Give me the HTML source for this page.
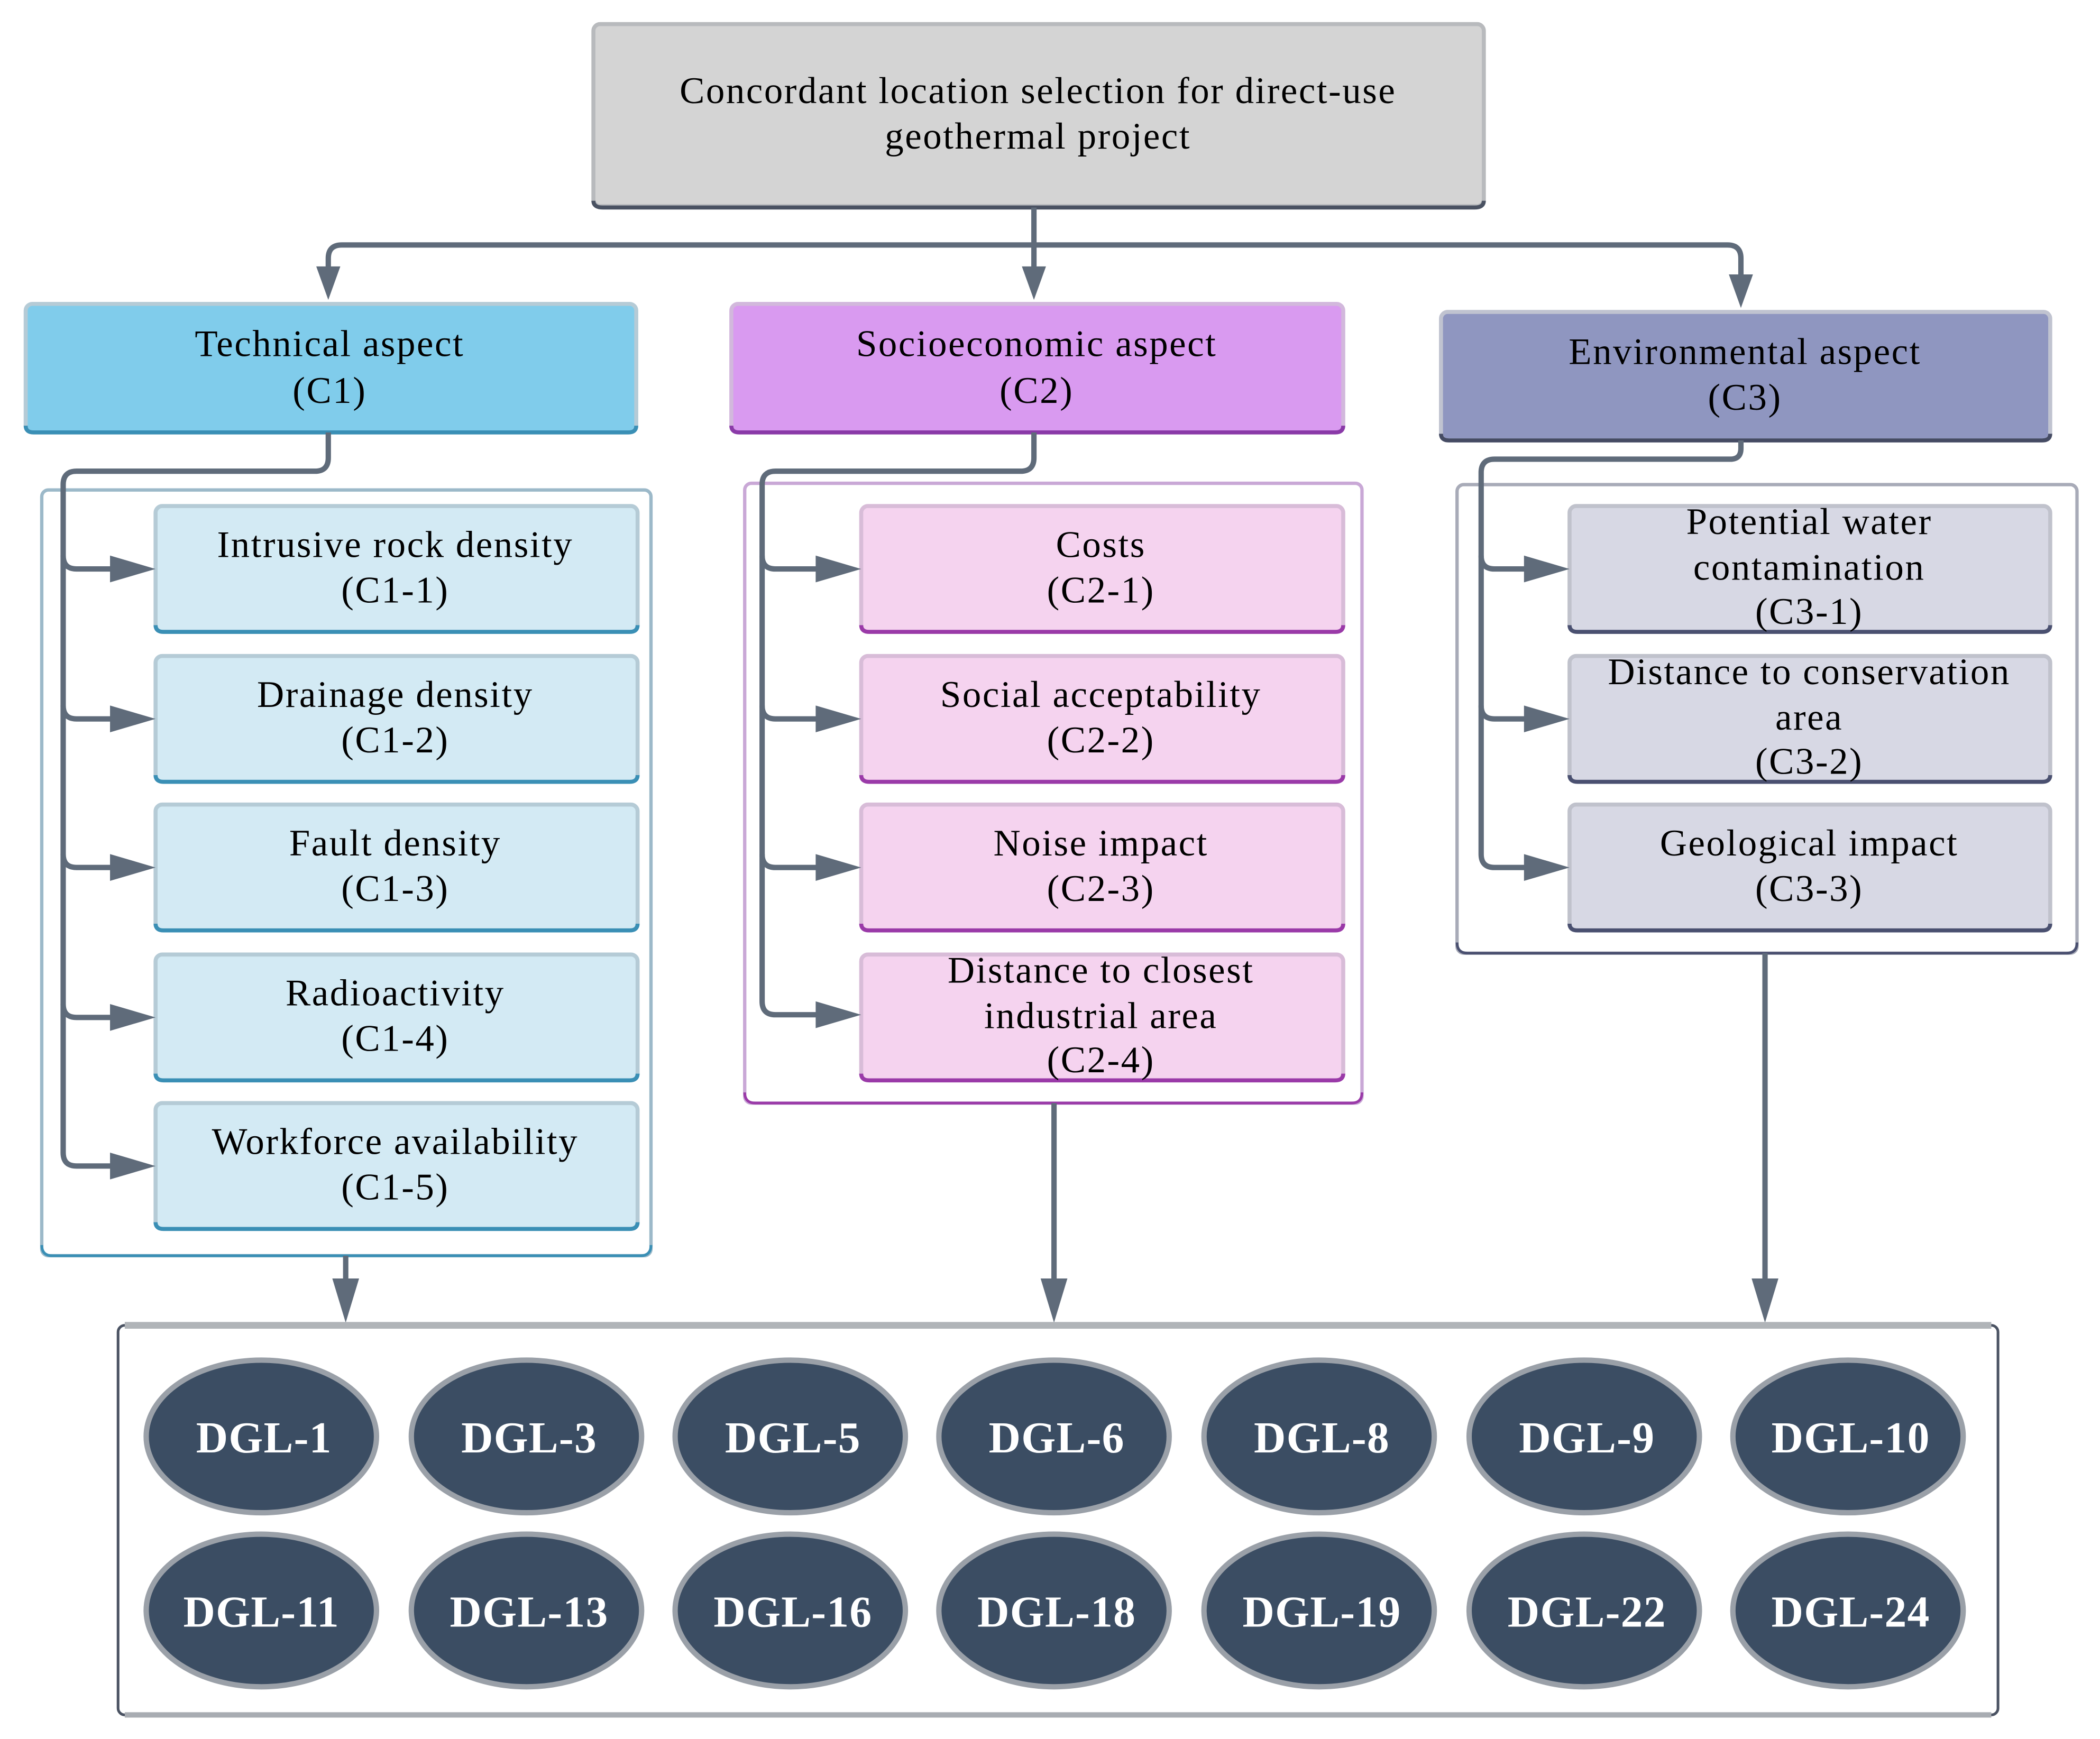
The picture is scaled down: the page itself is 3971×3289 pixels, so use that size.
<!DOCTYPE html>
<html><head><meta charset="utf-8"><style>
html,body{margin:0;padding:0;background:#fff;}
svg{display:block;}
text{font-family:"Liberation Serif",serif;}
</style></head><body>
<svg width="3971" height="3289" viewBox="0 0 1568 1299" xmlns="http://www.w3.org/2000/svg">
<rect width="1568" height="1299" fill="#fff"/>
<!-- top box -->
<rect x="443" y="18" width="665" height="136" rx="5" fill="#d4d4d4" stroke="#b8babd" stroke-width="3"/>
<path d="M443,150 Q443,155 450,155 L1101,155 Q1108,155 1108,150" fill="none" stroke="#4a5262" stroke-width="3"/>
<g font-size="28" letter-spacing="1" text-anchor="middle" fill="#000">
<text x="775" y="77">Concordant location selection for direct-use</text>
<text x="775" y="111">geothermal project</text>
</g>
<!-- top connectors -->
<g fill="none" stroke="#5f6b7a" stroke-width="4">
<path d="M772,155 V183"/>
<path d="M245,205 V193 Q245,183 255,183 H1290 Q1300,183 1300,193 V210"/>
<path d="M772,183 V206"/>
</g>
<g fill="#5f6b7a">
<path d="M236,199 L254,199 L245,224z"/>
<path d="M763,199 L781,199 L772,224z"/>
<path d="M1291,205 L1309,205 L1300,230z"/>
</g>
<!-- category boxes -->
<rect x="19" y="227" width="456" height="96" rx="5" fill="#80cceb" stroke="#b5cbd6" stroke-width="3"/>
<path d="M19,318 Q19,323 25,323 L469,323 Q475,323 475,318" fill="none" stroke="#3a8fb5" stroke-width="3"/>
<rect x="546" y="227" width="457" height="96" rx="5" fill="#d99af0" stroke="#d2b8dc" stroke-width="3"/>
<path d="M546,318 Q546,323 552,323 L997,323 Q1003,323 1003,318" fill="none" stroke="#8a3aa8" stroke-width="3"/>
<rect x="1076" y="233" width="455" height="96" rx="5" fill="#8f96c0" stroke="#c0c3d0" stroke-width="3"/>
<path d="M1076,324 Q1076,329 1082,329 L1525,329 Q1531,329 1531,324" fill="none" stroke="#454b63" stroke-width="3"/>
<g font-size="28" letter-spacing="1" text-anchor="middle" fill="#000">
<text x="246" y="266">Technical aspect</text><text x="246" y="301">(C1)</text>
<text x="774" y="266">Socioeconomic aspect</text><text x="774" y="301">(C2)</text>
<text x="1303" y="272">Environmental aspect</text><text x="1303" y="306">(C3)</text>
</g>
<!-- containers -->
<rect x="31" y="366" width="455" height="572" rx="5" fill="none" stroke="#9cb9c9" stroke-width="2.5"/>
<path d="M31,930 Q31,938 39,938 L478,938 Q486,938 486,930" fill="none" stroke="#3a8fb5" stroke-width="2"/>
<rect x="556" y="361" width="461" height="463" rx="5" fill="none" stroke="#c9a8d6" stroke-width="2.5"/>
<path d="M556,816 Q556,824 564,824 L1009,824 Q1017,824 1017,816" fill="none" stroke="#9a3aa8" stroke-width="2"/>
<rect x="1088" y="362" width="463" height="350" rx="5" fill="none" stroke="#a8abb8" stroke-width="2.5"/>
<path d="M1088,704 Q1088,712 1096,712 L1543,712 Q1551,712 1551,704" fill="none" stroke="#4a5070" stroke-width="2"/>
<!-- sub boxes -->
<g stroke-width="3">
<g fill="#d3eaf4" stroke="#b5cbd6">
<rect x="116" y="378" width="360" height="94" rx="5"/>
<rect x="116" y="490" width="360" height="94" rx="5"/>
<rect x="116" y="601" width="360" height="94" rx="5"/>
<rect x="116" y="713" width="360" height="94" rx="5"/>
<rect x="116" y="824" width="360" height="94" rx="5"/>
</g>
<g fill="none" stroke="#3a8fb5">
<path d="M116,467 Q116,472 122,472 H470 Q476,472 476,467"/>
<path d="M116,579 Q116,584 122,584 H470 Q476,584 476,579"/>
<path d="M116,690 Q116,695 122,695 H470 Q476,695 476,690"/>
<path d="M116,802 Q116,807 122,807 H470 Q476,807 476,802"/>
<path d="M116,913 Q116,918 122,918 H470 Q476,918 476,913"/>
</g>
<g fill="#f5d3ef" stroke="#d8bcd8">
<rect x="643" y="378" width="360" height="94" rx="5"/>
<rect x="643" y="490" width="360" height="94" rx="5"/>
<rect x="643" y="601" width="360" height="94" rx="5"/>
<rect x="643" y="713" width="360" height="94" rx="5"/>
</g>
<g fill="none" stroke="#9a3aa8">
<path d="M643,467 Q643,472 649,472 H997 Q1003,472 1003,467"/>
<path d="M643,579 Q643,584 649,584 H997 Q1003,584 1003,579"/>
<path d="M643,690 Q643,695 649,695 H997 Q1003,695 1003,690"/>
<path d="M643,802 Q643,807 649,807 H997 Q1003,807 1003,802"/>
</g>
<g fill="#d7d8e4" stroke="#c0c2cc">
<rect x="1172" y="378" width="359" height="94" rx="5"/>
<rect x="1172" y="490" width="359" height="94" rx="5"/>
<rect x="1172" y="601" width="359" height="94" rx="5"/>
</g>
<g fill="none" stroke="#4a5070">
<path d="M1172,467 Q1172,472 1178,472 H1525 Q1531,472 1531,467"/>
<path d="M1172,579 Q1172,584 1178,584 H1525 Q1531,584 1531,579"/>
<path d="M1172,690 Q1172,695 1178,695 H1525 Q1531,695 1531,690"/>
</g>
</g>
<g font-size="28" letter-spacing="1" text-anchor="middle" fill="#000">
<text x="295" y="416">Intrusive rock density</text><text x="295" y="450">(C1-1)</text>
<text x="295" y="528">Drainage density</text><text x="295" y="562">(C1-2)</text>
<text x="295" y="639">Fault density</text><text x="295" y="673">(C1-3)</text>
<text x="295" y="751">Radioactivity</text><text x="295" y="785">(C1-4)</text>
<text x="295" y="862">Workforce availability</text><text x="295" y="896">(C1-5)</text>
<text x="822" y="416">Costs</text><text x="822" y="450">(C2-1)</text>
<text x="822" y="528">Social acceptability</text><text x="822" y="562">(C2-2)</text>
<text x="822" y="639">Noise impact</text><text x="822" y="673">(C2-3)</text>
<text x="822" y="734">Distance to closest</text><text x="822" y="768">industrial area</text><text x="822" y="801">(C2-4)</text>
<text x="1351" y="399">Potential water</text><text x="1351" y="433">contamination</text><text x="1351" y="466">(C3-1)</text>
<text x="1351" y="511">Distance to conservation</text><text x="1351" y="545">area</text><text x="1351" y="578">(C3-2)</text>
<text x="1351" y="639">Geological impact</text><text x="1351" y="673">(C3-3)</text>
</g>
<!-- sub connectors -->
<g fill="none" stroke="#5f6b7a" stroke-width="4">
<path d="M245,323 V342 Q245,352 235,352 H57 Q47,352 47,362 V861 Q47,871 57,871 H95"/>
<path d="M47,415 Q47,425 57,425 H95"/>
<path d="M47,527 Q47,537 57,537 H95"/>
<path d="M47,638 Q47,648 57,648 H95"/>
<path d="M47,750 Q47,760 57,760 H95"/>
<path d="M772,323 V342 Q772,352 762,352 H579 Q569,352 569,362 V748 Q569,758 579,758 H622"/>
<path d="M569,415 Q569,425 579,425 H622"/>
<path d="M569,527 Q569,537 579,537 H622"/>
<path d="M569,638 Q569,648 579,648 H622"/>
<path d="M1300,329 V335 Q1300,343 1292,343 H1116 Q1106,343 1106,353 V638 Q1106,648 1116,648 H1150"/>
<path d="M1106,415 Q1106,425 1116,425 H1150"/>
<path d="M1106,527 Q1106,537 1116,537 H1150"/>
<path d="M258,938 V965"/>
<path d="M787,824 V962"/>
<path d="M1318,712 V962"/>
</g>
<g fill="#5f6b7a">
<path d="M82,415 L116,425 L82,435z"/><path d="M82,527 L116,537 L82,547z"/><path d="M82,638 L116,648 L82,658z"/><path d="M82,750 L116,760 L82,770z"/><path d="M82,861 L116,871 L82,881z"/>
<path d="M609,415 L643,425 L609,435z"/><path d="M609,527 L643,537 L609,547z"/><path d="M609,638 L643,648 L609,658z"/><path d="M609,748 L643,758 L609,768z"/>
<path d="M1138,415 L1172,425 L1138,435z"/><path d="M1138,527 L1172,537 L1138,547z"/><path d="M1138,638 L1172,648 L1138,658z"/>
<path d="M248,955 L268,955 L258,988z"/>
<path d="M777,955 L797,955 L787,988z"/>
<path d="M1308,955 L1328,955 L1318,988z"/>
</g>
<!-- bottom container -->
<rect x="88" y="990" width="1404" height="291" rx="5" fill="none" stroke="#4a5262" stroke-width="2"/>
<path d="M93,990 H1487" stroke="#b0b4b8" stroke-width="5"/>
<path d="M93,1281 H1487" stroke="#a8acb2" stroke-width="4"/>
<g stroke="#9aa0a8" stroke-width="4" fill="#3b4d63">
<ellipse cx="195" cy="1073" rx="86" ry="57"/><ellipse cx="393" cy="1073" rx="86" ry="57"/><ellipse cx="590" cy="1073" rx="86" ry="57"/><ellipse cx="787" cy="1073" rx="86" ry="57"/><ellipse cx="985" cy="1073" rx="86" ry="57"/><ellipse cx="1183" cy="1073" rx="86" ry="57"/><ellipse cx="1380" cy="1073" rx="86" ry="57"/>
<ellipse cx="195" cy="1203" rx="86" ry="57"/><ellipse cx="393" cy="1203" rx="86" ry="57"/><ellipse cx="590" cy="1203" rx="86" ry="57"/><ellipse cx="787" cy="1203" rx="86" ry="57"/><ellipse cx="985" cy="1203" rx="86" ry="57"/><ellipse cx="1183" cy="1203" rx="86" ry="57"/><ellipse cx="1380" cy="1203" rx="86" ry="57"/>
</g>
<g font-size="33" font-weight="bold" letter-spacing="0.5" text-anchor="middle" fill="#fff">
<text x="197" y="1085">DGL-1</text><text x="395" y="1085">DGL-3</text><text x="592" y="1085">DGL-5</text><text x="789" y="1085">DGL-6</text><text x="987" y="1085">DGL-8</text><text x="1185" y="1085">DGL-9</text><text x="1382" y="1085">DGL-10</text>
<text x="195" y="1215">DGL-11</text><text x="395" y="1215">DGL-13</text><text x="592" y="1215">DGL-16</text><text x="789" y="1215">DGL-18</text><text x="987" y="1215">DGL-19</text><text x="1185" y="1215">DGL-22</text><text x="1382" y="1215">DGL-24</text>
</g>
</svg>
</body></html>
